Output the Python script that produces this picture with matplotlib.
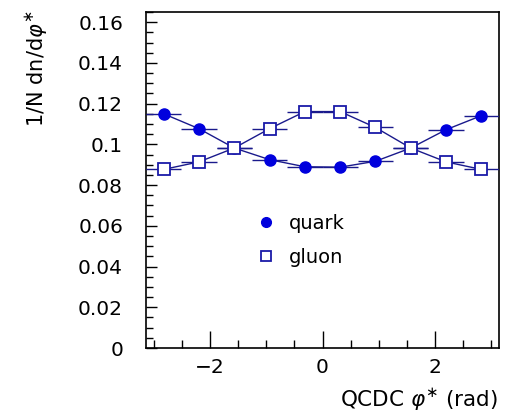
import numpy as np
import matplotlib
matplotlib.use("Agg")
import matplotlib.pyplot as plt
from matplotlib.lines import Line2D
from matplotlib.ticker import MultipleLocator

# 10 bins over [-pi, pi]
bin_edges = np.linspace(-np.pi, np.pi, 11)
phi = 0.5 * (bin_edges[:-1] + bin_edges[1:])
half_width = 0.5 * np.diff(bin_edges)

quark = [0.1150, 0.1077, 0.0982, 0.0925, 0.0890, 0.0888, 0.0917, 0.0982, 0.1072, 0.1141]
gluon = [0.0877, 0.0914, 0.0982, 0.1077, 0.1161, 0.1161, 0.1083, 0.0982, 0.0914, 0.0877]

LINE = "#1a1a8c"
QUARK = "#0000dd"
GLUON = "#1a1aa8"

plt.rcParams["font.family"] = "DejaVu Sans"
plt.rcParams["mathtext.fontset"] = "dejavusans"

fig = plt.figure(figsize=(5.08, 4.15), dpi=100)
ax = fig.add_axes([146 / 508, 1 - 348 / 415, 353 / 508, 336 / 415])

ax.plot(phi, quark, color=LINE, lw=1.0, zorder=2)
ax.plot(phi, gluon, color=LINE, lw=1.0, zorder=2)
ax.errorbar(phi, quark, xerr=half_width, fmt="o", ms=8, mfc=QUARK, mec=QUARK,
            ecolor=LINE, elinewidth=1.0, capsize=0, zorder=3)
ax.errorbar(phi, gluon, xerr=half_width, fmt="s", ms=8.5, mfc="white", mec=GLUON,
            mew=1.3, ecolor=LINE, elinewidth=1.0, capsize=0, zorder=3)

ax.set_xlim(-np.pi, np.pi)
ax.set_ylim(0, 0.165)
ax.xaxis.set_minor_locator(MultipleLocator(0.5))
ax.yaxis.set_minor_locator(MultipleLocator(0.005))
ax.set_yticks(np.arange(0, 0.161, 0.02))
ax.set_yticklabels(["0", "0.02", "0.04", "0.06", "0.08", "0.1", "0.12", "0.14", "0.16"])
ax.set_xticks([-2, 0, 2])
ax.set_xticklabels(["\u22122", "0", "2"])

ax.tick_params(axis="both", which="both", direction="in", top=False, right=False,
               labelsize=14.5, colors="black")
ax.tick_params(axis="x", which="major", length=12, width=1, pad=7)
ax.tick_params(axis="x", which="minor", length=6, width=1)
ax.tick_params(axis="y", which="major", length=8, width=1, pad=16.5)
ax.tick_params(axis="y", which="minor", length=5, width=1)
for s in ax.spines.values():
    s.set_linewidth(1.2)

fig.text(498 / 508, 1 - 400 / 415, r"QCDC $\varphi^{\ast}$ (rad)", ha="right", va="center",
         fontsize=15.5)
fig.text(37 / 508, 1 - 10 / 415, r"1/N dn/d$\varphi^{\ast}$", rotation=90, ha="center",
         va="top", fontsize=15)

handles = [
    Line2D([], [], ls="none", marker="o", ms=7, mfc=QUARK, mec=QUARK),
    Line2D([], [], ls="none", marker="s", ms=7, mfc="white", mec=GLUON, mew=1.3),
]
ax.legend(handles, ["quark", "gluon"], loc="upper left", frameon=False,
          bbox_to_anchor=(258 / 508, 1 - 214 / 415), bbox_transform=fig.transFigure,
          prop={"size": 14}, handlelength=0.8, handletextpad=0.8,
          labelspacing=0.75, borderpad=0, borderaxespad=0)

fig.savefig("out.png", dpi=100)
